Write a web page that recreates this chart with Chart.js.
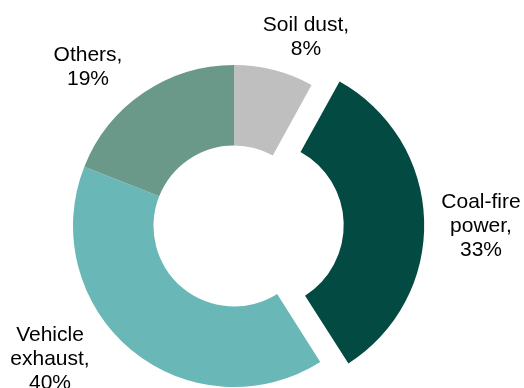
<!DOCTYPE html>
<html>
<head>
<meta charset="utf-8">
<script src="https://cdn.jsdelivr.net/npm/chart.js@4.4.0/dist/chart.umd.min.js"></script>
<style>
  html, body { margin: 0; padding: 0; background: #fff; }
  #wrap { width: 524px; height: 388px; position: relative; }
</style>
</head>
<body>
<div id="wrap"><canvas id="chart"></canvas></div>
<script>
// ================= DATA =================
const categories = ["Soil dust", "Coal-fire power", "Vehicle exhaust", "Others"];
const shares = [8, 33, 40, 19];
const labelLines = [
    ["Soil dust,", "8%"],
    ["Coal-fire", "power,", "33%"],
    ["Vehicle", "exhaust,", "40%"],
    ["Others,", "19%"]
];
const sliceColors = ["#bfbfbf", "#034a43", "#69b8b7", "#6a998a"];
const sliceOffsets = [0, 104, 0, 0];

// where each label's first baseline sits (canvas px)
const labelPos = [
    { x: 306, y: 31 },
    { x: 481, y: 208 },
    { x: 50, y: 341 },
    { x: 88, y: 61 }
];

// ================= LABEL PLUGIN =================
const sliceLabels = {
    id: "sliceLabels",
    afterDatasetsDraw(chart) {
        const ctx = chart.ctx;
        ctx.save();
        ctx.font = "21px 'Liberation Sans', Arial, sans-serif";
        ctx.fillStyle = "#000";
        ctx.textAlign = "center";
        ctx.textBaseline = "alphabetic";
        labelLines.forEach((lines, i) => {
            const p = labelPos[i];
            lines.forEach((t, k) => ctx.fillText(t, p.x, p.y + k * 24));
        });
        ctx.restore();
    }
};

// ================= CHART =================
new Chart(document.getElementById("chart"), {
    type: "doughnut",
    data: {
        labels: categories,
        datasets: [{
            data: shares,
            backgroundColor: sliceColors,
            borderWidth: 0,
            offset: sliceOffsets,
            hoverOffset: 0,
            clip: false
        }]
    },
    options: {
        responsive: true,
        maintainAspectRatio: false,
        animation: false,
        radius: 161,
        cutout: "50%",
        layout: { padding: { top: 64, bottom: 0, left: 0, right: 56 } },
        plugins: {
            legend: { display: false },
            tooltip: { enabled: false }
        }
    },
    plugins: [sliceLabels]
});
</script>
</body>
</html>
